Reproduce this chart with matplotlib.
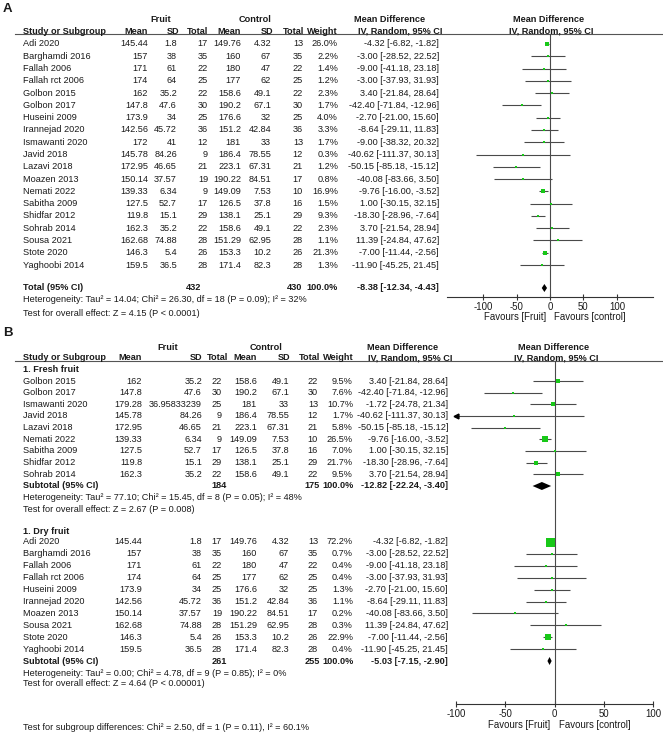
import numpy as np
import matplotlib
matplotlib.use("Agg")
import matplotlib.pyplot as plt

plt.rcParams['font.family'] = ['Liberation Sans', 'DejaVu Sans']

# ---------------- data : panel A ----------------
studies_A = ["Adi 2020", "Barghamdi 2016", "Fallah 2006", "Fallah rct 2006", "Golbon 2015",
             "Golbon 2017", "Huseini 2009", "Irannejad 2020", "Ismawanti 2020", "Javid 2018",
             "Lazavi 2018", "Moazen 2013", "Nemati 2022", "Sabitha 2009", "Shidfar 2012",
             "Sohrab 2014", "Sousa 2021", "Stote 2020", "Yaghoobi 2014"]
fruit_mean_A = [145.44, 157, 171, 174, 162, 147.8, 173.9, 142.56, 172, 145.78, 172.95, 150.14,
                139.33, 127.5, 119.8, 162.3, 162.68, 146.3, 159.5]
fruit_sd_A = [1.8, 38, 61, 64, 35.2, 47.6, 34, 45.72, 41, 84.26, 46.65, 37.57, 6.34, 52.7, 15.1,
              35.2, 74.88, 5.4, 36.5]
fruit_n_A = [17, 35, 22, 25, 22, 30, 25, 36, 12, 9, 21, 19, 9, 17, 29, 22, 28, 26, 28]
ctrl_mean_A = [149.76, 160, 180, 177, 158.6, 190.2, 176.6, 151.2, 181, 186.4, 223.1, 190.22,
               149.09, 126.5, 138.1, 158.6, 151.29, 153.3, 171.4]
ctrl_sd_A = [4.32, 67, 47, 62, 49.1, 67.1, 32, 42.84, 33, 78.55, 67.31, 84.51, 7.53, 37.8, 25.1,
             49.1, 62.95, 10.2, 82.3]
ctrl_n_A = [13, 35, 22, 25, 22, 30, 25, 36, 13, 12, 21, 17, 10, 16, 29, 22, 28, 26, 28]
weight_A = [26.0, 2.2, 1.4, 1.2, 2.3, 1.7, 4.0, 3.3, 1.7, 0.3, 1.2, 0.8, 16.9, 1.5, 9.3, 2.3,
            1.1, 21.3, 1.3]
md_A = [-4.32, -3.00, -9.00, -3.00, 3.40, -42.40, -2.70, -8.64, -9.00, -40.62, -50.15, -40.08,
        -9.76, 1.00, -18.30, 3.70, 11.39, -7.00, -11.90]
lo_A = [-6.82, -28.52, -41.18, -37.93, -21.84, -71.84, -21.00, -29.11, -38.32, -111.37, -85.18,
        -83.66, -16.00, -30.15, -28.96, -21.54, -24.84, -11.44, -45.25]
hi_A = [-1.82, 22.52, 23.18, 31.93, 28.64, -12.96, 15.60, 11.83, 20.32, 30.13, -15.12, 3.50,
        -3.52, 32.15, -7.64, 28.94, 47.62, -2.56, 21.45]
total_A = dict(n1=432, n2=430, w=100.0, md=-8.38, lo=-12.34, hi=-4.43)
het_A = "Heterogeneity: Tau\u00b2 = 14.04; Chi\u00b2 = 26.30, df = 18 (P = 0.09); I\u00b2 = 32%"
test_A = "Test for overall effect: Z = 4.15 (P < 0.0001)"

# ---------------- data : panel B, fresh fruit ----------------
studies_F = ["Golbon 2015", "Golbon 2017", "Ismawanti 2020", "Javid 2018", "Lazavi 2018",
             "Nemati 2022", "Sabitha 2009", "Shidfar 2012", "Sohrab 2014"]
fruit_mean_F = [162, 147.8, 179.28, 145.78, 172.95, 139.33, 127.5, 119.8, 162.3]
fruit_sd_F = [35.2, 47.6, 36.95833239, 84.26, 46.65, 6.34, 52.7, 15.1, 35.2]
fruit_n_F = [22, 30, 25, 9, 21, 9, 17, 29, 22]
ctrl_mean_F = [158.6, 190.2, 181, 186.4, 223.1, 149.09, 126.5, 138.1, 158.6]
ctrl_sd_F = [49.1, 67.1, 33, 78.55, 67.31, 7.53, 37.8, 25.1, 49.1]
ctrl_n_F = [22, 30, 13, 12, 21, 10, 16, 29, 22]
weight_F = [9.5, 7.6, 10.7, 1.7, 5.8, 26.5, 7.0, 21.7, 9.5]
md_F = [3.40, -42.40, -1.72, -40.62, -50.15, -9.76, 1.00, -18.30, 3.70]
lo_F = [-21.84, -71.84, -24.78, -111.37, -85.18, -16.00, -30.15, -28.96, -21.54]
hi_F = [28.64, -12.96, 21.34, 30.13, -15.12, -3.52, 32.15, -7.64, 28.94]
sub_F = dict(n1=184, n2=175, w=100.0, md=-12.82, lo=-22.24, hi=-3.40)
het_F = "Heterogeneity: Tau\u00b2 = 77.10; Chi\u00b2 = 15.45, df = 8 (P = 0.05); I\u00b2 = 48%"
test_F = "Test for overall effect: Z = 2.67 (P = 0.008)"

# ---------------- data : panel B, dry fruit ----------------
studies_D = ["Adi 2020", "Barghamdi 2016", "Fallah 2006", "Fallah rct 2006", "Huseini 2009",
             "Irannejad 2020", "Moazen 2013", "Sousa 2021", "Stote 2020", "Yaghoobi 2014"]
fruit_mean_D = [145.44, 157, 171, 174, 173.9, 142.56, 150.14, 162.68, 146.3, 159.5]
fruit_sd_D = [1.8, 38, 61, 64, 34, 45.72, 37.57, 74.88, 5.4, 36.5]
fruit_n_D = [17, 35, 22, 25, 25, 36, 19, 28, 26, 28]
ctrl_mean_D = [149.76, 160, 180, 177, 176.6, 151.2, 190.22, 151.29, 153.3, 171.4]
ctrl_sd_D = [4.32, 67, 47, 62, 32, 42.84, 84.51, 62.95, 10.2, 82.3]
ctrl_n_D = [13, 35, 22, 25, 25, 36, 17, 28, 26, 28]
weight_D = [72.2, 0.7, 0.4, 0.4, 1.3, 1.1, 0.2, 0.3, 22.9, 0.4]
md_D = [-4.32, -3.00, -9.00, -3.00, -2.70, -8.64, -40.08, 11.39, -7.00, -11.90]
lo_D = [-6.82, -28.52, -41.18, -37.93, -21.00, -29.11, -83.66, -24.84, -11.44, -45.25]
hi_D = [-1.82, 22.52, 23.18, 31.93, 15.60, 11.83, 3.50, 47.62, -2.56, 21.45]
sub_D = dict(n1=261, n2=255, w=100.0, md=-5.03, lo=-7.15, hi=-2.90)
het_D = "Heterogeneity: Tau\u00b2 = 0.00; Chi\u00b2 = 4.78, df = 9 (P = 0.85); I\u00b2 = 0%"
test_D = "Test for overall effect: Z = 4.64 (P < 0.00001)"
subgroup_test = "Test for subgroup differences: Chi\u00b2 = 2.50, df = 1 (P = 0.11), I\u00b2 = 60.1%"

ticks = [-100, -50, 0, 50, 100]

# ---------------- figure ----------------
W, H = 663, 736
fig = plt.figure(figsize=(W / 100, H / 100), dpi=100)
ax = fig.add_axes([0, 0, 1, 1])
ax.set_xlim(0, W)
ax.set_ylim(H, 0)
ax.axis('off')

FS = 6.6
GREEN = '#18c818'
LINEC = '#4a4a4a'
TXT = '#1a1a1a'


def fmt(v):
    if isinstance(v, int):
        return str(v)
    return ('%.8f' % v).rstrip('0').rstrip('.')


def T(x, y, s, ha='left', bold=False, size=FS):
    ax.text(x, y, s, ha=ha, va='center', fontsize=size,
            fontweight='bold' if bold else 'normal', color=TXT)


def fax(x0, x1, y0, y1):
    return fig.add_axes([x0 / W, 1 - y1 / H, (x1 - x0) / W, (y1 - y0) / H], facecolor='none')


def setup_forest(fa, xlim, ytop, ybot, fav_y):
    fa.set_xlim(*xlim)
    fa.set_ylim(ybot, ytop)
    for s in ['top', 'left', 'right']:
        fa.spines[s].set_visible(False)
    fa.spines['bottom'].set_color('#333333')
    fa.spines['bottom'].set_linewidth(0.8)
    fa.set_yticks([])
    fa.set_xticks(ticks)
    fa.set_xticklabels([str(t) for t in ticks])
    fa.tick_params(axis='x', direction='inout', length=5, width=0.8, labelsize=FS + 0.3,
                   pad=1, colors='#333333', labelcolor=TXT)
    fa.axvline(0, color=LINEC, lw=0.8)
    fa.annotate("Favours [Fruit]", xy=(0, fav_y), xytext=(-3, 0), textcoords='offset points',
                ha='right', va='center', fontsize=FS + 0.3, color=TXT, annotation_clip=False)
    fa.annotate("Favours [control]", xy=(0, fav_y), xytext=(3, 0), textcoords='offset points',
                ha='left', va='center', fontsize=FS + 0.3, color=TXT, annotation_clip=False)


def draw_study(fa, y, md, lo, hi, w, wmax, smax):
    xl, xr = fa.get_xlim()
    l = max(lo, xl)
    r = min(hi, xr)
    fa.plot([l, r], [y, y], color=LINEC, lw=0.8, solid_capstyle='butt', clip_on=False)
    if lo < xl:
        fa.plot([xl], [y], marker='<', color='black', ms=3.5, clip_on=False)
    side_px = max(2.0, smax * np.sqrt(w / wmax))
    fa.plot([md], [y], marker='s', color=GREEN, ms=side_px * 0.72, mec=GREEN, mew=0,
            clip_on=False, zorder=3)


def draw_diamond(fa, y, d, hpx=8.0):
    fa.fill([d['lo'], d['md'], d['hi'], d['md']], [y, y - hpx / 2, y, y + hpx / 2],
            color='black', lw=0, clip_on=False, zorder=3)


# ================= Panel A =================
T(3, 9, "A", bold=True, size=9.5)
T(161, 19, "Fruit", ha='center', bold=True)
T(255, 19, "Control", ha='center', bold=True)
T(354, 19, "Mean Difference", bold=True)
T(549, 19, "Mean Difference", ha='center', bold=True)
T(23, 31, "Study or Subgroup", bold=True)
for x, s in [(148, "Mean"), (179, "SD"), (208, "Total"), (241, "Mean"), (273, "SD"),
             (304, "Total"), (338, "Weight")]:
    T(x, 31, s, ha='right', bold=True)
T(358, 31, "IV, Random, 95% CI", bold=True)
T(551, 31, "IV, Random, 95% CI", ha='center', bold=True)
ax.plot([15, 663], [34, 34], color='#555555', lw=0.8)

rowsA = 44 + 12.28 * np.arange(len(studies_A))
for i, y in enumerate(rowsA):
    T(23, y, studies_A[i])
    T(148, y, fmt(fruit_mean_A[i]), ha='right')
    T(177, y, fmt(fruit_sd_A[i]), ha='right')
    T(208, y, fmt(fruit_n_A[i]), ha='right')
    T(241, y, fmt(ctrl_mean_A[i]), ha='right')
    T(271, y, fmt(ctrl_sd_A[i]), ha='right')
    T(303, y, fmt(ctrl_n_A[i]), ha='right')
    T(338, y, "%.1f%%" % weight_A[i], ha='right')
    T(439, y, "%.2f [%.2f, %.2f]" % (md_A[i], lo_A[i], hi_A[i]), ha='right')

yTA = 288
T(23, yTA, "Total (95% CI)", bold=True)
T(201, yTA, str(total_A['n1']), ha='right', bold=True)
T(302, yTA, str(total_A['n2']), ha='right', bold=True)
T(338, yTA, "%.1f%%" % total_A['w'], ha='right', bold=True)
T(439, yTA, "%.2f [%.2f, %.2f]" % (total_A['md'], total_A['lo'], total_A['hi']), ha='right', bold=True)
T(23, 300, het_A)
T(23, 313, test_A)

faA = fax(447, 653, 34, 297)
setup_forest(faA, (-154, 154), 34, 297, 317)
wmaxA = max(weight_A)
for i, y in enumerate(rowsA):
    draw_study(faA, y, md_A[i], lo_A[i], hi_A[i], weight_A[i], wmaxA, 5.0)
draw_diamond(faA, yTA, total_A)

# ================= Panel B =================
T(3, 333, "B", bold=True, size=9.5)
T(168, 347, "Fruit", ha='center', bold=True)
T(266, 347, "Control", ha='center', bold=True)
T(367, 347, "Mean Difference", bold=True)
T(554, 347, "Mean Difference", ha='center', bold=True)
T(23, 358, "Study or Subgroup", bold=True)
for x, s in [(142, "Mean"), (202, "SD"), (228, "Total"), (257, "Mean"), (290, "SD"),
             (320, "Total"), (354, "Weight")]:
    T(x, 358, s, ha='right', bold=True)
T(368, 358, "IV, Random, 95% CI", bold=True)
T(556, 358, "IV, Random, 95% CI", ha='center', bold=True)
ax.plot([15, 663], [361, 361], color='#555555', lw=0.8)


def table_rows(rows, studies, fm, fs, fn, cm, cs, cn, w, md, lo, hi):
    for i, y in enumerate(rows):
        T(23, y, studies[i])
        T(142, y, fmt(fm[i]), ha='right')
        T(202, y, fmt(fs[i]), ha='right')
        T(222, y, fmt(fn[i]), ha='right')
        T(257, y, fmt(cm[i]), ha='right')
        T(289, y, fmt(cs[i]), ha='right')
        T(318, y, fmt(cn[i]), ha='right')
        T(353, y, "%.1f%%" % w[i], ha='right')
        T(448, y, "%.2f [%.2f, %.2f]" % (md[i], lo[i], hi[i]), ha='right')


def subtotal_row(y, d):
    T(23, y, "Subtotal (95% CI)", bold=True)
    T(227, y, str(d['n1']), ha='right', bold=True)
    T(320, y, str(d['n2']), ha='right', bold=True)
    T(354, y, "%.1f%%" % d['w'], ha='right', bold=True)
    T(448, y, "%.2f [%.2f, %.2f]" % (d['md'], d['lo'], d['hi']), ha='right', bold=True)


T(23, 370, "1. Fresh fruit", bold=True)
rowsF = 381 + 11.65 * np.arange(len(studies_F))
table_rows(rowsF, studies_F, fruit_mean_F, fruit_sd_F, fruit_n_F, ctrl_mean_F, ctrl_sd_F,
           ctrl_n_F, weight_F, md_F, lo_F, hi_F)
ySF = 486
subtotal_row(ySF, sub_F)
T(23, 498, het_F)
T(23, 510, test_F)

T(23, 531, "1. Dry fruit", bold=True)
rowsD = 542 + 11.9 * np.arange(len(studies_D))
table_rows(rowsD, studies_D, fruit_mean_D, fruit_sd_D, fruit_n_D, ctrl_mean_D, ctrl_sd_D,
           ctrl_n_D, weight_D, md_D, lo_D, hi_D)
ySD = 661
subtotal_row(ySD, sub_D)
T(23, 673, het_D)
T(23, 684, test_D)
T(23, 728, subgroup_test)

faB = fax(456, 653, 361, 704)
setup_forest(faB, (-100, 100), 361, 704, 725)
wmaxB = max(max(weight_F), max(weight_D))
for i, y in enumerate(rowsF):
    draw_study(faB, y, md_F[i], lo_F[i], hi_F[i], weight_F[i], wmaxB, 9.0)
for i, y in enumerate(rowsD):
    draw_study(faB, y, md_D[i], lo_D[i], hi_D[i], weight_D[i], wmaxB, 9.0)
draw_diamond(faB, ySF, sub_F)
draw_diamond(faB, ySD, sub_D)

fig.savefig("out.png", dpi=100, facecolor='white')
